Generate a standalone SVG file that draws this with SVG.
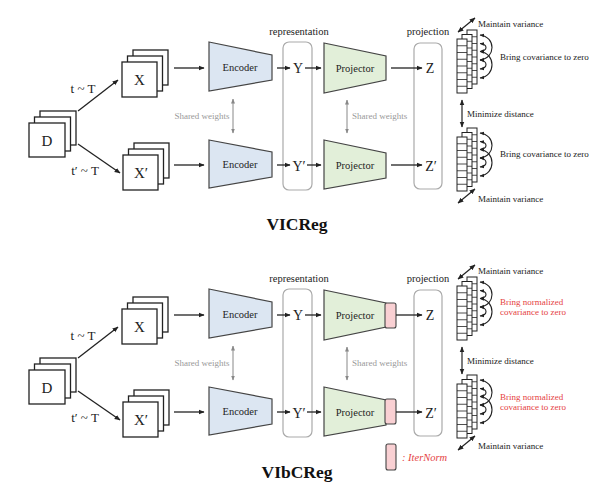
<svg xmlns="http://www.w3.org/2000/svg" width="595" height="496" viewBox="0 0 595 496">
<defs>
<marker id="ah" viewBox="0 0 10 10" refX="9" refY="5" markerWidth="6" markerHeight="6" markerUnits="userSpaceOnUse" orient="auto-start-reverse"><path d="M0,1 L10,5 L0,9 z" fill="#222"/></marker>
<marker id="ahs" viewBox="0 0 10 10" refX="9" refY="5" markerWidth="4.5" markerHeight="4.5" markerUnits="userSpaceOnUse" orient="auto-start-reverse"><path d="M0,1 L10,5 L0,9 z" fill="#222"/></marker>
<marker id="ahg" viewBox="0 0 10 10" refX="9" refY="5" markerWidth="5" markerHeight="5" markerUnits="userSpaceOnUse" orient="auto-start-reverse"><path d="M0,1 L10,5 L0,9 z" fill="#888"/></marker>
<g id="col">
<rect x="10" y="-9" width="10" height="54" class="cell"/>
<path d="M10,-2.25 h10 M10,4.5 h10 M10,11.25 h10 M10,18 h10 M10,24.75 h10 M10,31.5 h10 M10,38.25 h10" class="cl"/>
<rect x="5" y="-4.5" width="10" height="54" class="cell"/>
<path d="M5,2.25 h10 M5,9 h10 M5,15.75 h10 M5,22.5 h10 M5,29.25 h10 M5,36 h10 M5,42.75 h10" class="cl"/>
<rect x="0" y="0" width="10" height="54" class="cell"/>
<path d="M0,6.75 h10 M0,13.5 h10 M0,20.25 h10 M0,27 h10 M0,33.75 h10 M0,40.5 h10 M0,47.25 h10" class="cl"/>
</g>
<g id="curves">
<path d="M23,-4 C39,-2 39,19 23,21" class="cv"/>
<path d="M23,4.5 C31,5.5 31,11.5 23,12.5" class="cv"/>
<path d="M23,12.5 C39,14.5 39,37 23,39" class="cv"/>
<path d="M23,21 C31,22 31,29 23,30" class="cv"/>
</g>
</defs>
<style>
.s{fill:#fff;stroke:#222;stroke-width:1.3}
.cell{fill:#fff;stroke:#222;stroke-width:1}
.cl{fill:none;stroke:#222;stroke-width:0.8}
.cv{fill:none;stroke:#222;stroke-width:1.1;marker-start:url(#ahs);marker-end:url(#ahs)}
.enc{fill:#dce6f2;stroke:#444;stroke-width:1.2}
.proj{fill:#e2efd9;stroke:#444;stroke-width:1.2}
.box{fill:none;stroke:#aaa;stroke-width:1.2}
.itn{fill:#f9d0d3;stroke:#444;stroke-width:1.1}
.ar{fill:none;stroke:#222;stroke-width:1.3;marker-end:url(#ah)}
.dar{fill:none;stroke:#222;stroke-width:1.2;marker-start:url(#ah);marker-end:url(#ah)}
.gar{fill:none;stroke:#888;stroke-width:1;marker-start:url(#ahg);marker-end:url(#ahg)}
text{font-family:"Liberation Serif","Times New Roman",serif;fill:#222}
.big{font-size:15px;text-anchor:middle}
.yz{font-size:14px;text-anchor:middle}
.lbl{font-size:10.5px;text-anchor:middle}
.t{font-size:13px;text-anchor:middle}
.sw{font-size:9px;fill:#999}
.sm{font-size:9px}
.red{fill:#e5423f}
.title{font-size:17.5px;font-weight:bold;text-anchor:middle;fill:#111}
</style>

<!-- ===== VICReg ===== -->
<g id="vic-D"><rect class="s" x="40" y="111" width="36" height="34"/><rect class="s" x="34.5" y="117" width="36" height="34"/><rect class="s" x="29" y="123" width="36" height="34"/><text class="big" x="47" y="146">D</text></g>
<g id="vic-X"><rect class="s" x="133" y="50" width="35" height="35"/><rect class="s" x="127.5" y="56" width="35" height="35"/><rect class="s" x="122" y="62" width="35" height="35"/><text class="big" x="139.5" y="85">X</text></g>
<g id="vic-X2"><rect class="s" x="134" y="143" width="35" height="35"/><rect class="s" x="128.5" y="149" width="35" height="35"/><rect class="s" x="123" y="155" width="35" height="35"/><text class="big" x="141" y="178">X′</text></g>
<g id="vic-enc1"><polygon class="enc" points="209,42 272,55 272,80 209,91"/><text class="lbl" x="240" y="70.5">Encoder</text></g>
<g id="vic-enc2"><polygon class="enc" points="209,140 272,152 272,177 209,188"/><text class="lbl" x="240" y="167.5">Encoder</text></g>
<g id="vic-rep"><rect class="box" x="283" y="42" width="29" height="148" rx="6"/><text class="lbl" x="299" y="35">representation</text><text class="yz" x="298" y="73">Y</text><text class="yz" x="299" y="171">Y′</text></g>
<g id="vic-proj1"><polygon class="proj" points="324,43 386,56 386,80 324,93"/><text class="lbl" x="355" y="71.5">Projector</text></g>
<g id="vic-proj2"><polygon class="proj" points="324,140 386,153 386,178 324,189"/><text class="lbl" x="355" y="168.5">Projector</text></g>
<g id="vic-pz"><rect class="box" x="414" y="43" width="28" height="146" rx="6"/><text class="lbl" x="428" y="35">projection</text><text class="yz" x="430" y="73">Z</text><text class="yz" x="431" y="171">Z′</text></g>
<g id="vic-emb1"><use href="#col" x="457" y="39"/><use href="#curves" x="457" y="39"/><text class="sm" x="478" y="27">Maintain variance</text><text class="sm" x="500" y="60">Bring covariance to zero</text></g>
<g id="vic-emb2"><use href="#col" x="457" y="137"/><use href="#curves" x="457" y="137"/><text class="sm" x="478" y="202">Maintain variance</text><text class="sm" x="500" y="157">Bring covariance to zero</text></g>
<g id="vic-labels">
<text class="t" x="83" y="93">t ~ T</text><text class="t" x="85" y="175">t′ ~ T</text>
<text class="sw" x="202" y="119" text-anchor="middle">Shared weights</text>
<text class="sw" x="352" y="119">Shared weights</text>
<text class="sm" x="467" y="117">Minimize distance</text>
<text class="title" x="297" y="230">VICReg</text>
</g>

<!-- ===== VIbCReg ===== -->
<g id="vib-D"><rect class="s" x="40" y="358" width="36" height="34"/><rect class="s" x="34.5" y="364" width="36" height="34"/><rect class="s" x="29" y="370" width="36" height="34"/><text class="big" x="47" y="393">D</text></g>
<g id="vib-X"><rect class="s" x="133" y="297" width="35" height="35"/><rect class="s" x="127.5" y="303" width="35" height="35"/><rect class="s" x="122" y="309" width="35" height="35"/><text class="big" x="139.5" y="332">X</text></g>
<g id="vib-X2"><rect class="s" x="134" y="390" width="35" height="35"/><rect class="s" x="128.5" y="396" width="35" height="35"/><rect class="s" x="123" y="402" width="35" height="35"/><text class="big" x="141" y="425">X′</text></g>
<g id="vib-enc1"><polygon class="enc" points="209,289 272,302 272,327 209,338"/><text class="lbl" x="240" y="317.5">Encoder</text></g>
<g id="vib-enc2"><polygon class="enc" points="209,387 272,399 272,424 209,435"/><text class="lbl" x="240" y="414.5">Encoder</text></g>
<g id="vib-rep"><rect class="box" x="283" y="289" width="29" height="148" rx="6"/><text class="lbl" x="299" y="282">representation</text><text class="yz" x="298" y="320">Y</text><text class="yz" x="299" y="418">Y′</text></g>
<g id="vib-proj1"><polygon class="proj" points="324,290 386,303 386,327 324,340"/><rect class="itn" x="385" y="303" width="11" height="25" rx="2"/><text class="lbl" x="355" y="318.5">Projector</text></g>
<g id="vib-proj2"><polygon class="proj" points="324,387 386,400 386,425 324,436"/><rect class="itn" x="385" y="399" width="11" height="25" rx="2"/><text class="lbl" x="355" y="415.5">Projector</text></g>
<g id="vib-pz"><rect class="box" x="414" y="290" width="28" height="146" rx="6"/><text class="lbl" x="428" y="282">projection</text><text class="yz" x="430" y="320">Z</text><text class="yz" x="431" y="418">Z′</text></g>
<g id="vib-emb1"><use href="#col" x="457" y="286"/><use href="#curves" x="457" y="286"/><text class="sm" x="478" y="274">Maintain variance</text><text class="sm red" x="500" y="305">Bring normalized</text><text class="sm red" x="500" y="315">covariance to zero</text></g>
<g id="vib-emb2"><use href="#col" x="457" y="384"/><use href="#curves" x="457" y="384"/><text class="sm" x="478" y="449">Maintain variance</text><text class="sm red" x="500" y="400">Bring normalized</text><text class="sm red" x="500" y="410">covariance to zero</text></g>
<g id="vib-legend"><rect class="itn" x="386" y="444" width="10" height="26" rx="2"/><text x="402" y="461" font-size="10.5" font-style="italic" class="red">: IterNorm</text></g>
<g id="vib-labels">
<text class="t" x="83" y="340">t ~ T</text><text class="t" x="85" y="422">t′ ~ T</text>
<text class="sw" x="202" y="366" text-anchor="middle">Shared weights</text>
<text class="sw" x="352" y="366">Shared weights</text>
<text class="sm" x="467" y="364">Minimize distance</text>
<text class="title" x="297" y="478">VIbCReg</text>
</g>

<g id="connectors">
<line class="ar" x1="78" y1="111" x2="118" y2="80"/>
<line class="ar" x1="78" y1="144" x2="120" y2="173"/>
<line class="ar" x1="174" y1="68" x2="204" y2="68"/>
<line class="ar" x1="174" y1="165" x2="204" y2="165"/>
<line class="ar" x1="277" y1="68" x2="290" y2="68"/>
<line class="ar" x1="277" y1="165" x2="290" y2="165"/>
<line class="ar" x1="305" y1="68" x2="321" y2="68"/>
<line class="ar" x1="307" y1="165" x2="321" y2="165"/>
<line class="ar" x1="391" y1="68" x2="422" y2="68"/>
<line class="ar" x1="391" y1="165" x2="422" y2="165"/>
<line class="gar" x1="233" y1="99" x2="233" y2="133"/>
<line class="gar" x1="347" y1="100" x2="347" y2="133"/>
<line class="dar" x1="462" y1="100" x2="462" y2="127"/>
<line class="dar" x1="458" y1="32" x2="475" y2="18"/>
<line class="dar" x1="458" y1="203" x2="475" y2="189"/>

<line class="ar" x1="78" y1="358" x2="118" y2="327"/>
<line class="ar" x1="78" y1="391" x2="120" y2="420"/>
<line class="ar" x1="174" y1="315" x2="204" y2="315"/>
<line class="ar" x1="174" y1="412" x2="204" y2="412"/>
<line class="ar" x1="277" y1="315" x2="290" y2="315"/>
<line class="ar" x1="277" y1="412" x2="290" y2="412"/>
<line class="ar" x1="305" y1="315" x2="321" y2="315"/>
<line class="ar" x1="307" y1="412" x2="321" y2="412"/>
<line class="ar" x1="396" y1="315" x2="422" y2="315"/>
<line class="ar" x1="396" y1="412" x2="422" y2="412"/>
<line class="gar" x1="233" y1="346" x2="233" y2="380"/>
<line class="gar" x1="347" y1="347" x2="347" y2="380"/>
<line class="dar" x1="462" y1="347" x2="462" y2="374"/>
<line class="dar" x1="458" y1="279" x2="475" y2="265"/>
<line class="dar" x1="458" y1="450" x2="475" y2="436"/>
</g>
</svg>
